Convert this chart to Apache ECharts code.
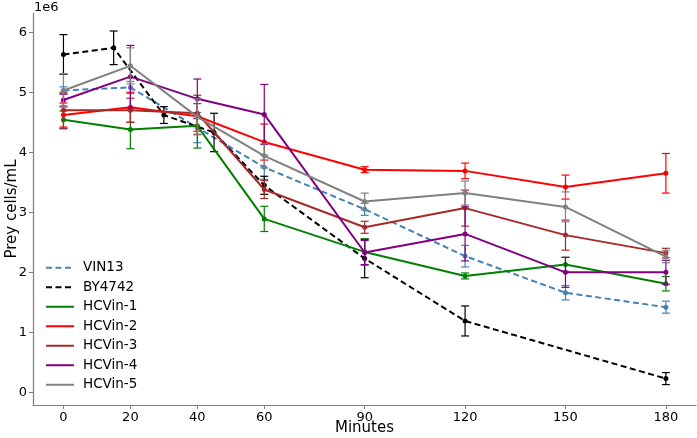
<!DOCTYPE html>
<html>
<head>
<meta charset="utf-8">
<script src="https://cdn.jsdelivr.net/npm/echarts@6/dist/echarts.min.js"></script>
<style>
  html, body { margin: 0; padding: 0; background: #fff; }
  #chart { width: 697px; height: 438px; }
</style>
</head>
<body>
<div id="chart"></div>
<script>
// time points (minutes)
const timesStd = [0, 20, 40, 60, 90, 120, 150, 180];
const timesBY = [0, 15, 30, 45, 60, 90, 120, 180];
const xTicks = [0, 20, 40, 60, 90, 120, 150, 180];
const yTicks = [0, 1, 2, 3, 4, 5, 6];

// prey cells/mL (x1e6) and error
const vin13 = [5.03, 5.08, 4.41, 3.75, 3.05, 2.27, 1.66, 1.42];
const vin13Err = [0.06, 0.1, 0.25, 0.2, 0.1, 0.18, 0.12, 0.1];
const by4742 = [5.63, 5.74, 4.62, 4.33, 3.45, 2.23, 1.19, 0.23];
const by4742Err = [0.33, 0.28, 0.14, 0.32, 0.15, 0.32, 0.25, 0.1];
const hcv1 = [4.54, 4.38, 4.44, 2.89, 2.34, 1.94, 2.13, 1.81];
const hcv1Err = [0.15, 0.32, 0.37, 0.21, 0.22, 0.05, 0.12, 0.12];
const hcv2 = [4.62, 4.75, 4.6, 4.17, 3.71, 3.69, 3.42, 3.65];
const hcv2Err = [0.2, 0.25, 0.3, 0.3, 0.05, 0.13, 0.2, 0.33];
const hcv3 = [4.7, 4.7, 4.65, 3.38, 2.75, 3.07, 2.62, 2.32];
const hcv3Err = [0.3, 0.2, 0.3, 0.15, 0.1, 0.3, 0.25, 0.08];
const hcv4 = [4.87, 5.26, 4.89, 4.63, 2.33, 2.64, 2.0, 2.0];
const hcv4Err = [0.1, 0.52, 0.33, 0.5, 0.2, 0.45, 0.25, 0.2];
const hcv5 = [5.03, 5.44, 4.59, 3.94, 3.18, 3.32, 3.09, 2.26];
const hcv5Err = [0.28, 0.3, 0.3, 0.2, 0.14, 0.2, 0.25, 0.1];

const groups = [
  { name: 'VIN13', t: timesStd, v: vin13, e: vin13Err, color: '#4682b4', dashed: true },
  { name: 'BY4742', t: timesBY, v: by4742, e: by4742Err, color: '#000000', dashed: true },
  { name: 'HCVin-1', t: timesStd, v: hcv1, e: hcv1Err, color: '#008000' },
  { name: 'HCVin-2', t: timesStd, v: hcv2, e: hcv2Err, color: '#ff0000' },
  { name: 'HCVin-3', t: timesStd, v: hcv3, e: hcv3Err, color: '#a52a2a' },
  { name: 'HCVin-4', t: timesStd, v: hcv4, e: hcv4Err, color: '#800080' },
  { name: 'HCVin-5', t: timesStd, v: hcv5, e: hcv5Err, color: '#808080' }
];

const font = 'DejaVu Sans';
const axisGray = '#7f7f7f';

function errorBarItem(color) {
  return function (params, api) {
    const x = api.value(0);
    const lo = api.coord([x, api.value(1)]);
    const hi = api.coord([x, api.value(2)]);
    const cap = 4;
    const style = { stroke: color, lineWidth: 1.2 };
    return {
      type: 'group',
      children: [
        { type: 'line', shape: { x1: lo[0], y1: lo[1], x2: hi[0], y2: hi[1] }, style },
        { type: 'line', shape: { x1: lo[0] - cap, y1: lo[1], x2: lo[0] + cap, y2: lo[1] }, style },
        { type: 'line', shape: { x1: hi[0] - cap, y1: hi[1], x2: hi[0] + cap, y2: hi[1] }, style }
      ]
    };
  };
}

const series = [];
groups.forEach(function (g, i) {
  series.push({
    name: g.name,
    type: 'line',
    data: g.t.map((t, k) => [t, g.v[k]]),
    symbol: 'circle',
    symbolSize: 5,
    showSymbol: true,
    color: g.color,
    lineStyle: { width: 2, color: g.color, type: g.dashed ? [6, 3.5] : 'solid' },
    itemStyle: { color: g.color },
    z: 10 + i * 2,
    animation: false
  });
  series.push({
    name: g.name,
    type: 'custom',
    renderItem: errorBarItem(g.color),
    data: g.t.map((t, k) => [t, g.v[k] - g.e[k], g.v[k] + g.e[k]]),
    encode: { x: 0, y: [1, 2] },
    z: 11 + i * 2,
    silent: true,
    animation: false
  });
});

const chart = echarts.init(document.getElementById('chart'));
chart.setOption({
  backgroundColor: '#ffffff',
  animation: false,
  textStyle: { fontFamily: font },
  grid: { left: 33, right: 1, top: 13, bottom: 33, containLabel: false, outerBoundsMode: 'none' },
  legend: {
    data: groups.map(g => g.name),
    orient: 'vertical',
    left: 40,
    top: 253,
    itemWidth: 28,
    itemHeight: 6,
    itemGap: 0,
    textStyle: { fontFamily: font, fontSize: 13.5, color: '#000', lineHeight: 19.5, padding: [0, 0, 0, 4] },
    itemStyle: { opacity: 0 },
    selectedMode: false
  },
  xAxis: {
    type: 'value',
    min: -9.1,
    max: 189,
    name: 'Minutes',
    nameLocation: 'middle',
    nameGap: 16,
    nameMoveOverlap: false,
    nameTextStyle: { fontFamily: font, fontSize: 15, color: '#000' },
    axisLine: { show: true, onZero: false, lineStyle: { color: axisGray, width: 1.2 } },
    axisTick: { show: true, length: 4, customValues: xTicks, lineStyle: { color: axisGray } },
    axisLabel: { customValues: xTicks, fontFamily: font, fontSize: 13, color: '#000', margin: 6 },
    splitLine: { show: false }
  },
  yAxis: {
    type: 'value',
    min: -0.21,
    max: 6.32,
    name: 'Prey cells/mL',
    nameLocation: 'middle',
    nameGap: 13,
    nameMoveOverlap: false,
    nameRotate: 90,
    nameTextStyle: { fontFamily: font, fontSize: 15, color: '#000' },
    axisLine: { show: true, onZero: false, lineStyle: { color: axisGray, width: 1.2 } },
    axisTick: { show: true, length: 4, customValues: yTicks, lineStyle: { color: axisGray } },
    axisLabel: { customValues: yTicks, fontFamily: font, fontSize: 13, color: '#000', margin: 6 },
    splitLine: { show: false }
  },
  graphic: [
    { type: 'text', left: 34, top: 1, style: { text: '1e6', font: '13px "DejaVu Sans"', fill: '#000' } }
  ],
  series: series
});
</script>
</body>
</html>
